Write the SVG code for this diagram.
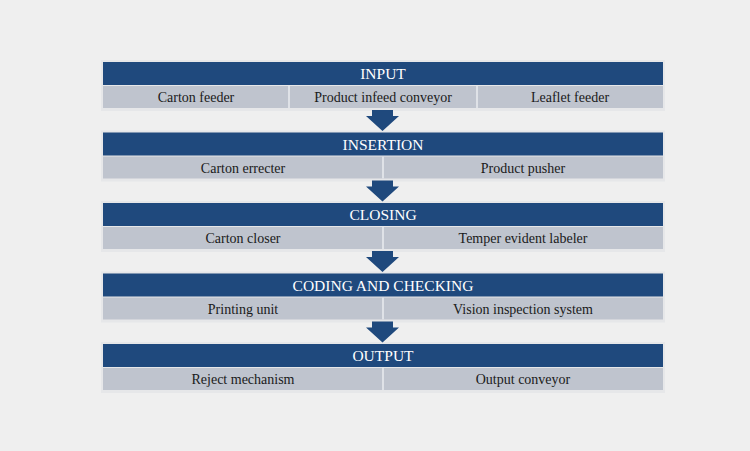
<svg xmlns="http://www.w3.org/2000/svg" width="750" height="451" viewBox="0 0 750 451">
<style>
.frame{fill:#e6e7e9}
.head{fill:#1f497d}
.cell{fill:#bfc4ce}
.sep{stroke:#dfe2e7;stroke-width:2}
.ht{font-family:"Liberation Serif","Times New Roman",serif;font-size:15.5px;fill:#ffffff;text-anchor:middle}
.ct{font-family:"Liberation Serif","Times New Roman",serif;font-size:14px;fill:#1a1a1a;text-anchor:middle}
.arrow{fill:#1f497d}
</style>
<rect width="750" height="451" fill="#efefef"/>
<g id="input">
<rect class="frame" x="101" y="60" width="564" height="51"/>
<rect class="head" x="103" y="62" width="560" height="23"/>
<rect class="cell" x="103" y="86" width="560" height="22"/>
<line class="sep" x1="289" y1="86" x2="289" y2="108"/>
<line class="sep" x1="477" y1="86" x2="477" y2="108"/>
<text class="ht" x="383" y="79">INPUT</text>
<text class="ct" x="196" y="102">Carton feeder</text>
<text class="ct" x="383" y="102">Product infeed conveyor</text>
<text class="ct" x="570" y="102">Leaflet feeder</text>
</g>
<g id="insertion">
<rect class="frame" x="101" y="130.5" width="564" height="51"/>
<rect class="head" x="103" y="132.5" width="560" height="23"/>
<rect class="cell" x="103" y="156.5" width="560" height="22"/>
<line class="sep" x1="383" y1="156.5" x2="383" y2="178.5"/>
<text class="ht" x="383" y="149.5">INSERTION</text>
<text class="ct" x="243" y="172.5">Carton errecter</text>
<text class="ct" x="523" y="172.5">Product pusher</text>
</g>
<g id="closing">
<rect class="frame" x="101" y="201" width="564" height="51"/>
<rect class="head" x="103" y="203" width="560" height="23"/>
<rect class="cell" x="103" y="227" width="560" height="22"/>
<line class="sep" x1="383" y1="227" x2="383" y2="249"/>
<text class="ht" x="383" y="220">CLOSING</text>
<text class="ct" x="243" y="243">Carton closer</text>
<text class="ct" x="523" y="243">Temper evident labeler</text>
</g>
<g id="coding">
<rect class="frame" x="101" y="271.5" width="564" height="51"/>
<rect class="head" x="103" y="273.5" width="560" height="23"/>
<rect class="cell" x="103" y="297.5" width="560" height="22"/>
<line class="sep" x1="383" y1="297.5" x2="383" y2="319.5"/>
<text class="ht" x="383" y="290.5">CODING AND CHECKING</text>
<text class="ct" x="243" y="313.5">Printing unit</text>
<text class="ct" x="523" y="313.5">Vision inspection system</text>
</g>
<g id="output">
<rect class="frame" x="101" y="342" width="564" height="51"/>
<rect class="head" x="103" y="344" width="560" height="23"/>
<rect class="cell" x="103" y="368" width="560" height="22"/>
<line class="sep" x1="383" y1="368" x2="383" y2="390"/>
<text class="ht" x="383" y="361">OUTPUT</text>
<text class="ct" x="243" y="384">Reject mechanism</text>
<text class="ct" x="523" y="384">Output conveyor</text>
</g>
<g id="connectors">
<polygon class="arrow" points="372,110 393,110 393,116 399,116 382.5,131 366,116 372,116"/>
<polygon class="arrow" points="372,180.5 393,180.5 393,186.5 399,186.5 382.5,201.5 366,186.5 372,186.5"/>
<polygon class="arrow" points="372,251 393,251 393,257 399,257 382.5,272 366,257 372,257"/>
<polygon class="arrow" points="372,321.5 393,321.5 393,327.5 399,327.5 382.5,342.5 366,327.5 372,327.5"/>
</g>
</svg>
